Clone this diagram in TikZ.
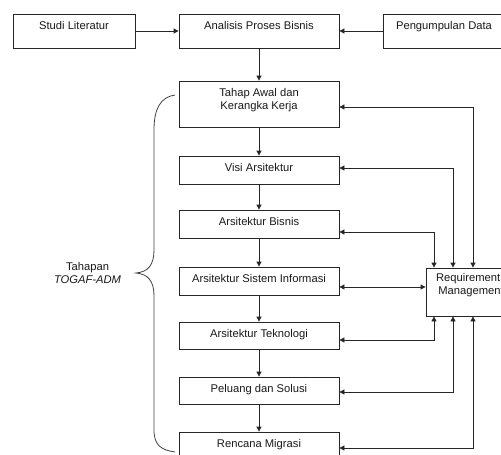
\documentclass[tikz,border=0pt]{standalone}
\usepackage{fontspec}
\setmainfont{Liberation Sans}
\usetikzlibrary{arrows.meta}
\begin{document}
\begin{tikzpicture}[x=1pt,y=-1pt,
  font=\fontsize{11.2}{13}\selectfont,
  box/.style={draw=black!85, line width=0.8pt, inner sep=0pt, text=black!90, text height=9pt},
  one/.style={minimum height=#1, text depth=#1-21.2pt},
  multi/.style={minimum height=#1, text height=0pt, text depth=0pt},
  tip/.tip={Triangle[length=5pt,width=5pt]},
  link/.style={draw=black!85, line width=0.8pt, -tip},
  dlink/.style={draw=black!85, line width=0.8pt, tip-tip},
  brace/.style={draw=black!75, line width=0.8pt}]
\useasboundingbox (0,0) rectangle (501,455);

% top row
\node[box, minimum width=122pt, one=34pt] (studi) at (74,31) {Studi Literatur};
\node[box, minimum width=160pt, one=34pt] (analisis) at (259,31) {Analisis Proses Bisnis};
\node[box, minimum width=122pt, one=34pt] (data) at (444,31) {Pengumpulan Data};

% TOGAF-ADM phases
\node[box, minimum width=160pt, multi=46pt] (tahap) at (259,104)
  {\raisebox{1.3pt}[0pt][0pt]{\begin{tabular}{@{}c@{}}Tahap Awal dan\\Kerangka Kerja\end{tabular}}};
\node[box, minimum width=160pt, one=28pt] (visi) at (259,170) {Visi Arsitektur};
\node[box, minimum width=160pt, one=28pt] (bisnis) at (259,224) {Arsitektur Bisnis};
\node[box, minimum width=160pt, one=28pt] (sistem) at (259,281) {Arsitektur Sistem Informasi};
\node[box, minimum width=160pt, one=27pt] (tekno) at (259,335.5) {Arsitektur Teknologi};
\node[box, minimum width=160pt, one=27pt] (peluang) at (259,390.5) {Peluang dan Solusi};
\node[box, minimum width=160pt, one=28pt] (rencana) at (259,446) {Rencana Migrasi};

% requirements management
\node[box, minimum width=90pt, multi=48pt] (req) at (471,292)
  {\raisebox{4.3pt}[0pt][0pt]{\begin{tabular}{@{}c@{}}Requirements\\Management\end{tabular}}};

% brace label
\node[align=center, text=black!90, inner sep=0pt] (lbl) at (87.5,272.5) {Tahapan\\\textit{TOGAF-ADM}};

% brace
\draw[brace] (175,95) .. controls (161,97) and (154,108) .. (154,130)
  -- (154,250) .. controls (154,265) and (148,272) .. (136,273)
  .. controls (148,274) and (154,281) .. (154,296)
  -- (154,430) .. controls (154,445) and (161,450) .. (175,452);

% main flow
\draw[link] (studi) -- (analisis);
\draw[link] (data) -- (analisis);
\draw[link] (analisis) -- (tahap);
\draw[link] (tahap) -- (visi);
\draw[link] (visi) -- (bisnis);
\draw[link] (bisnis) -- (sistem);
\draw[link] (sistem) -- (tekno);
\draw[link] (tekno) -- (peluang);
\draw[link] (peluang) -- (rencana);

% links with requirements management
\coordinate (hs) at (0,287);
\draw[dlink] ([yshift=-3pt]tahap.east) -| ([xshift=2pt]req.north);
\draw[dlink] ([yshift=2pt]visi.east) -| ([xshift=-18pt]req.north);
\draw[dlink] ([yshift=-8pt]bisnis.east) -| ([xshift=-37pt]req.north);
\draw[dlink] (sistem.east |- hs) -- (req.west |- hs);
\draw[dlink] ([yshift=-4.5pt]tekno.east) -| ([xshift=-37pt]req.south);
\draw[dlink] ([yshift=-1.5pt]peluang.east) -| ([xshift=-18pt]req.south);
\draw[dlink] ([yshift=-2pt]rencana.east) -| ([xshift=2pt]req.south);
\end{tikzpicture}
\end{document}
